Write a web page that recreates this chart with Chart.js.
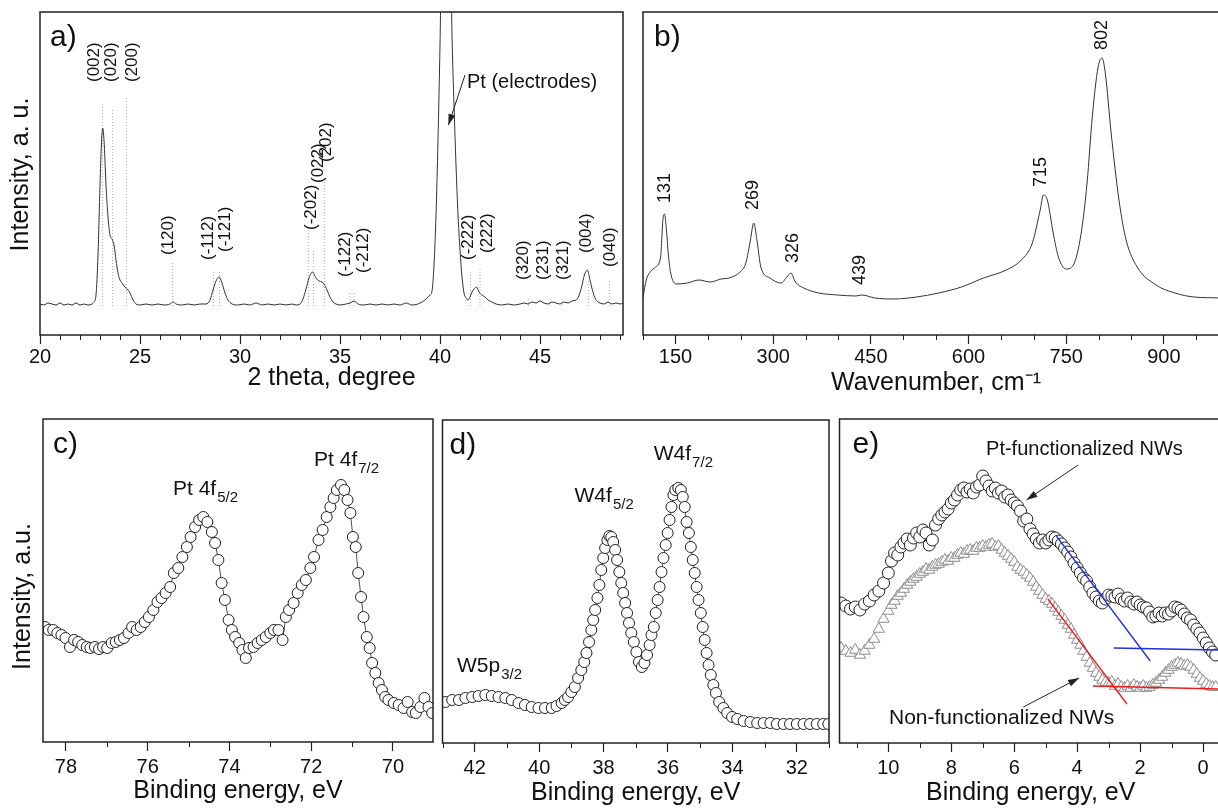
<!DOCTYPE html>
<html>
<head>
<meta charset="utf-8">
<script src="https://cdn.jsdelivr.net/npm/chart.js@4.4.0/dist/chart.umd.min.js"></script>
<style>
html, body { margin: 0; padding: 0; background: #fff; width: 1218px; height: 812px; overflow: hidden; position: relative; }
.panel { position: absolute; }
</style>
</head>
<body>
<div class="panel" style="left:0;top:0;width:633px;height:400px"><canvas id="xrd"></canvas></div>
<div class="panel" style="left:633px;top:0;width:617px;height:400px"><canvas id="raman"></canvas></div>
<div class="panel" style="left:0;top:400px;width:440px;height:412px"><canvas id="pt4f"></canvas></div>
<div class="panel" style="left:436px;top:400px;width:404px;height:412px"><canvas id="w4f"></canvas></div>
<div class="panel" style="left:832px;top:400px;width:420px;height:412px"><canvas id="vb"></canvas></div>
<script>
// a) XRD pattern (intensity in arbitrary units)
const xrdAngle = [
    20.0, 20.2, 20.4, 20.6, 20.8, 21.0, 21.2, 21.4, 21.6, 21.8,
    22.0, 22.2, 22.4, 22.6, 22.7, 22.8, 22.9, 23.0, 23.07, 23.13,
    23.2, 23.3, 23.4, 23.5, 23.6, 23.7, 23.8, 23.9, 24.0, 24.1,
    24.25, 24.4, 24.5, 24.65, 24.8, 25.0, 25.3, 25.6, 25.9, 26.2,
    26.5, 26.65, 26.8, 27.1, 27.4, 27.7, 28.0, 28.3, 28.5, 28.65,
    28.8, 28.95, 29.1, 29.25, 29.4, 29.6, 29.9, 30.2, 30.5, 30.8,
    31.1, 31.4, 31.7, 32.0, 32.3, 32.6, 32.8, 33.0, 33.15, 33.3,
    33.45, 33.62, 33.8, 33.95, 34.1, 34.2, 34.35, 34.5, 34.65, 34.8,
    35.0, 35.3, 35.5, 35.7, 35.9, 36.2, 36.5, 36.8, 37.1, 37.4,
    37.7, 38.0, 38.3, 38.6, 38.9, 39.1, 39.3, 39.5, 39.6, 39.7,
    39.8, 39.9, 40.0, 40.15, 40.45, 40.6, 40.7, 40.8, 40.9, 41.0,
    41.1, 41.2, 41.3, 41.4, 41.5, 41.6, 41.7, 41.83, 41.95, 42.1,
    42.25, 42.4, 42.6, 42.8, 43.1, 43.4, 43.7, 44.0, 44.2, 44.4,
    44.6, 44.8, 45.0, 45.2, 45.4, 45.6, 45.8, 46.0, 46.2, 46.4,
    46.6, 46.8, 46.92, 47.08, 47.22, 47.37, 47.5, 47.58, 47.75, 47.9,
    48.0, 48.2, 48.4, 48.6, 48.8, 49.0, 49.15
];
const xrdIntensity = [
    31, 30, 32, 31, 30, 32, 30, 31, 30, 32,
    30, 31, 30, 31, 33, 40, 80, 150, 190, 207,
    195, 150, 118, 100, 96, 90, 75, 62, 55, 52,
    48, 45, 42, 35, 31, 30, 31, 30, 31, 30,
    31, 33, 31, 30, 31, 30, 31, 31, 35, 45,
    54, 58, 52, 42, 35, 31, 30, 31, 30, 32,
    30, 31, 30, 31, 30, 31, 30, 31, 36, 46,
    57, 63, 57, 54, 53, 51, 45, 38, 33, 31,
    30, 31, 32, 34, 31, 30, 31, 30, 31, 30,
    31, 30, 32, 30, 31, 33, 36, 40, 44, 70,
    120, 195, 290, 470, 470, 300, 230, 170, 120, 85,
    58, 42, 37, 35, 38, 43, 46, 48, 43, 40,
    38, 35, 33, 31, 30, 31, 30, 31, 32, 31,
    33, 32, 34, 32, 31, 33, 32, 31, 33, 32,
    34, 35, 38, 48, 60, 65, 55, 48, 37, 33,
    32, 31, 33, 31, 32, 31, 32
];
// reference reflections (dotted lines) and their labels
const hklLabels = ['(002)', '(020)', '(200)', '(120)', '(-112)', '(-121)', '(-202)', '(022)', '(202)',
    '(-122)', '(-212)', '(-222)', '(222)', '(320)', '(231)', '(321)', '(004)', '(040)'];
const hklAngle = [23.13, 23.63, 24.33, 26.63, 28.67, 28.97, 33.42, 33.67, 34.22,
    35.5, 35.7, 41.53, 42.0, 44.42, 45.5, 46.1, 47.42, 48.47];
const hklHeight = [233, 227, 237, 72, 65, 65, 105, 85, 158, 43, 43, 65, 67, 38, 38, 38, 55, 55];
const hklLabelAngle = [22.7, 23.58, 24.63, 26.42, 28.42, 29.25, 33.58, 33.9, 34.33,
    35.25, 36.17, 41.42, 42.37, 44.17, 45.17, 46.17, 47.33, 48.5];
const hklLabelBase = [253, 253, 253, 80, 75, 83, 105, 152, 173, 58, 62, 75, 82, 55, 55, 55, 82, 68];

// b) Raman spectrum
const ramanShift = [
    100, 105, 111, 119.5, 127, 131, 133, 136, 139, 142.5,
    151, 168, 186, 203, 220, 232, 249, 258, 265, 270,
    275, 281, 295, 312, 321, 327, 334, 347, 370, 399,
    427, 436, 456, 485, 520, 554, 589, 623, 658, 681,
    698, 710, 715, 721, 730, 738, 750, 761, 773, 782,
    790, 799, 805, 810, 819, 831, 842, 859, 888, 917,
    946, 985, 1000
];
const ramanIntensity = [
    38, 55, 63, 68, 78, 118, 121, 105, 80, 62,
    51, 52, 55, 53, 56, 57, 63, 72, 95, 112,
    95, 68, 57, 52, 58, 62, 53, 47, 42, 40,
    39, 40, 37, 36, 38, 42, 48, 57, 65, 75,
    92, 125, 140, 135, 102, 78, 66, 70, 102, 152,
    218, 268, 277, 262, 202, 135, 95, 68, 50, 42,
    38, 37, 36
];
const ramanPeaks = ['131', '269', '326', '439', '715', '802'];
const ramanPeakShift = [133.9, 269, 330.8, 433, 711.4, 804.7];
const ramanPeakBase = [132, 125, 72, 50, 148, 285];

// c) Pt 4f XPS
const pt4fEnergy = [
    78.51, 78.42, 78.31, 78.21, 78.11, 78.01, 77.90, 77.80, 77.70, 77.60,
    77.49, 77.40, 77.29, 77.19, 77.09, 76.99, 76.88, 76.78, 76.68, 76.58,
    76.47, 76.38, 76.27, 76.17, 76.07, 75.97, 75.86, 75.76, 75.66, 75.56,
    75.45, 75.36, 75.25, 75.15, 75.04, 74.95, 74.84, 74.74, 74.64, 74.54,
    74.43, 74.35, 74.27, 74.19, 74.11, 74.02, 73.94, 73.86, 73.76, 73.68,
    73.60, 73.52, 73.41, 73.31, 73.21, 73.11, 73.00, 72.91, 72.80, 72.70,
    72.62, 72.54, 72.43, 72.33, 72.23, 72.13, 72.02, 71.93, 71.82, 71.72,
    71.62, 71.53, 71.45, 71.37, 71.27, 71.19, 71.11, 71.04, 70.98, 70.91,
    70.85, 70.78, 70.72, 70.64, 70.57, 70.51, 70.43, 70.35, 70.27, 70.19,
    70.11, 69.98, 69.86, 69.74, 69.64, 69.53, 69.44, 69.33, 69.23, 69.13,
    69.04
];
const pt4fIntensity = [
    115, 112, 112, 109, 107, 104, 95, 102, 100, 97,
    95, 94, 95, 93, 95, 94, 99, 100, 102, 104,
    109, 115, 112, 115, 120, 125, 132, 140, 144, 149,
    155, 169, 174, 185, 195, 205, 215, 222, 225, 220,
    210, 199, 182, 159, 142, 122, 112, 105, 99, 92,
    84, 94, 95, 99, 102, 105, 109, 112, 112, 102,
    125, 132, 139, 149, 157, 162, 174, 185, 202, 212,
    225, 235, 244, 252, 257, 252, 242, 229, 205, 195,
    169, 145, 125, 105, 94, 79, 69, 59, 52, 45,
    42, 39, 37, 34, 40, 30, 29, 35, 44, 35,
    29
];

// d) W 4f XPS
const w4fEnergy = [
    42.91, 42.70, 42.49, 42.29, 42.08, 41.88, 41.67, 41.47, 41.26, 41.05,
    40.85, 40.64, 40.44, 40.23, 40.02, 39.82, 39.61, 39.46, 39.30, 39.20,
    39.10, 39.00, 38.89, 38.79, 38.69, 38.60, 38.53, 38.45, 38.38, 38.32,
    38.26, 38.19, 38.13, 38.07, 38.01, 37.95, 37.88, 37.82, 37.76, 37.70,
    37.64, 37.58, 37.51, 37.45, 37.39, 37.33, 37.27, 37.21, 37.14, 37.06,
    36.98, 36.90, 36.81, 36.73, 36.65, 36.57, 36.51, 36.44, 36.38, 36.32,
    36.26, 36.20, 36.14, 36.07, 36.01, 35.95, 35.89, 35.83, 35.77, 35.68,
    35.60, 35.54, 35.48, 35.42, 35.35, 35.29, 35.23, 35.17, 35.11, 35.05,
    34.98, 34.92, 34.86, 34.80, 34.74, 34.67, 34.59, 34.51, 34.41, 34.28,
    34.16, 34.01, 33.85, 33.65, 33.44, 33.23, 33.03, 32.82, 32.62, 32.41,
    32.21, 32.00, 31.79, 31.59, 31.38, 31.18, 31.02
];
const w4fIntensity = [
    41, 43, 43, 45, 46, 47, 48, 47, 46, 45,
    43, 40, 38, 36, 35, 35, 35, 37, 40, 43,
    46, 51, 56, 65, 73, 81, 90, 101, 113, 123,
    133, 145, 158, 173, 185, 195, 203, 207, 206, 201,
    193, 183, 171, 160, 150, 140, 130, 120, 110, 101,
    91, 81, 76, 80, 88, 98, 108, 116, 130, 143,
    156, 171, 185, 198, 210, 223, 236, 248, 253, 255,
    253, 246, 236, 221, 210, 196, 183, 170, 156, 143,
    130, 116, 103, 90, 78, 68, 58, 50, 41, 35,
    30, 26, 24, 22, 21, 20, 20, 20, 19, 19,
    19, 19, 19, 19, 19, 19, 19
];

// e) valence band, both samples on one energy grid
const vbEnergy = [
    11.5, 11.35, 11.2, 11.05, 10.9, 10.75, 10.6, 10.45, 10.3, 10.15,
    10.0, 9.9, 9.8, 9.7, 9.6, 9.5, 9.4, 9.3, 9.2, 9.1,
    9.0, 8.9, 8.8, 8.7, 8.6, 8.5, 8.4, 8.3, 8.2, 8.1,
    8.0, 7.9, 7.8, 7.7, 7.6, 7.5, 7.4, 7.3, 7.2, 7.1,
    7.0, 6.9, 6.8, 6.7, 6.6, 6.5, 6.4, 6.3, 6.2, 6.1,
    6.0, 5.9, 5.8, 5.7, 5.6, 5.5, 5.4, 5.3, 5.2, 5.1,
    5.0, 4.9, 4.8, 4.7, 4.6, 4.5, 4.4, 4.3, 4.2, 4.1,
    4.0, 3.9, 3.8, 3.7, 3.6, 3.5, 3.4, 3.3, 3.2, 3.1,
    3.0, 2.9, 2.8, 2.7, 2.6, 2.5, 2.4, 2.3, 2.2, 2.1,
    2.0, 1.9, 1.8, 1.7, 1.6, 1.5, 1.4, 1.3, 1.2, 1.1,
    1.0, 0.9, 0.8, 0.7, 0.6, 0.5, 0.4, 0.3, 0.2, 0.1,
    0.0, -0.1, -0.2, -0.3, -0.4
];
const vbPtNWs = [
    140, 137, 134, 136, 133, 139, 142, 148, 152, 160,
    170, 182, 190, 188, 196, 200, 204, 198, 205, 210,
    206, 213, 210, 198, 203, 218, 224, 228, 231, 234,
    240, 243, 248, 253, 255, 251, 254, 250, 256, 258,
    267, 262, 257, 252, 255, 250, 252, 246, 248, 243,
    240, 237, 232, 222, 224, 214, 209, 204, 200, 203,
    200, 203, 206, 205, 202, 199, 195, 191, 186, 180,
    175, 170, 165, 162, 156, 150, 146, 142, 140, 144,
    148, 147, 146, 149, 144, 142, 145, 141, 139, 141,
    138, 136, 135, 131, 126, 127, 130, 127, 130, 129,
    132, 136, 135, 133, 129, 125, 123, 118, 114, 110,
    105, 100, 95, 91, 88
];
const vbBareNWs = [
    95, 92, 90, 93, 88, 92, 98, 104, 114, 124,
    132, 138, 142, 147, 150, 154, 158, 161, 164, 166,
    169, 171, 174, 173, 176, 178, 179, 181, 183, 182,
    185, 185, 188, 190, 189, 192, 193, 192, 195, 195,
    197, 196, 198, 199, 196, 197, 193, 190, 187, 184,
    181, 176, 173, 171, 168, 165, 161, 156, 152, 148,
    144, 142, 139, 135, 131, 127, 123, 118, 114, 108,
    103, 98, 92, 86, 80, 75, 70, 66, 63, 61,
    60, 61, 57, 59, 56, 55, 57, 55, 58, 56,
    55, 57, 55, 56, 58, 60, 63, 66, 70, 73,
    76, 78, 80, 79, 77, 78, 76, 73, 69, 65,
    62, 59, 57, 56, 56
];
// linear extrapolations of the band edge
const ptEdgeX = [4.66, 1.68], ptEdgeY = [207, 82];
const ptBaseX = [2.84, -0.48], ptBaseY = [95, 93];
const bareEdgeX = [4.93, 2.42], bareEdgeY = [144, 39];
const bareBaseX = [3.5, -0.48], bareBaseY = [57, 54];

const FONT = '"Liberation Sans", Arial, sans-serif';
Chart.defaults.font.family = FONT;
Chart.defaults.color = '#111';

function zip(xs, ys) {
    return xs.map((x, i) => ({ x: x, y: ys[i] }));
}

// vertical dotted sticks, separated by gaps
function sticks(xs, tops, base) {
    const pts = [];
    xs.forEach((x, i) => {
        pts.push({ x: x, y: base }, { x: x, y: tops[i] }, { x: x, y: null });
    });
    return pts;
}

function onMajor(v, major) {
    return Math.abs(v / major - Math.round(v / major)) < 1e-6;
}

function xAxis(min, max, step, major, reverse, title, tickPad, titlePad, height) {
    return {
        type: 'linear', min: min, max: max, reverse: reverse,
        ticks: {
            stepSize: step, includeBounds: false, autoSkip: false, maxRotation: 0,
            padding: tickPad, color: '#111', font: { size: 20 },
            callback: v => onMajor(v, major) ? String(Math.round(v)) : ''
        },
        grid: {
            drawOnChartArea: false, tickLength: 9, tickWidth: 1.2,
            tickColor: c => (c.tick && c.tick.label) ? '#222' : 'rgba(0,0,0,0)'
        },
        border: { display: false },
        title: { display: true, text: title, color: '#111', font: { size: 25 }, padding: { top: 0, bottom: titlePad } },
        afterFit: s => { s.height = height; }
    };
}

// frame, minor ticks, panel letter, annotations
const decor = {
    id: 'decor',
    afterDraw(chart, args, o) {
        const { ctx, chartArea: a } = chart;
        const sx = chart.scales.x, sy = chart.scales.y;
        ctx.save();
        ctx.strokeStyle = '#222';
        ctx.lineWidth = 1;
        sx.ticks.forEach(t => {
            if (t.label) return;
            const px = Math.round(sx.getPixelForValue(t.value)) + 0.5;
            ctx.beginPath();
            ctx.moveTo(px, a.bottom);
            ctx.lineTo(px, a.bottom + 5);
            ctx.stroke();
        });
        ctx.lineWidth = 1.5;
        ctx.strokeRect(a.left, a.top, a.right - a.left, a.bottom - a.top);

        ctx.fillStyle = '#111';
        ctx.font = '30px ' + FONT;
        ctx.textAlign = 'left';
        ctx.textBaseline = 'alphabetic';
        ctx.fillText(o.letter, a.left + o.letterDx, a.top + 34);

        if (o.yTitle) {
            ctx.save();
            ctx.translate(a.left + o.yTitle.dx, (a.top + a.bottom) / 2 + o.yTitle.dy);
            ctx.rotate(-Math.PI / 2);
            ctx.font = '25px ' + FONT;
            ctx.textAlign = 'center';
            ctx.textBaseline = 'middle';
            ctx.fillText(o.yTitle.text, 0, 0);
            ctx.restore();
        }

        (o.texts || []).forEach(t => {
            const px = sx.getPixelForValue(t.x), py = sy.getPixelForValue(t.y);
            ctx.font = t.size + 'px ' + FONT;
            if (t.rot) {
                ctx.save();
                ctx.translate(px, py);
                ctx.rotate(-Math.PI / 2);
                ctx.textAlign = 'left';
                ctx.textBaseline = 'middle';
                ctx.fillText(t.text, 0, 0);
                ctx.restore();
                return;
            }
            ctx.textAlign = t.align || 'left';
            ctx.textBaseline = t.baseline || 'alphabetic';
            ctx.fillText(t.text, px, py);
            if (t.sub) {
                const w = ctx.measureText(t.text).width;
                ctx.font = Math.round(t.size * 0.72) + 'px ' + FONT;
                ctx.fillText(t.sub, px + w + 1, py + t.size * 0.32);
            }
        });

        ctx.strokeStyle = '#222';
        ctx.fillStyle = '#222';
        ctx.lineWidth = 1;
        (o.arrows || []).forEach(ar => {
            const x1 = sx.getPixelForValue(ar[0]), y1 = sy.getPixelForValue(ar[1]);
            const x2 = sx.getPixelForValue(ar[2]), y2 = sy.getPixelForValue(ar[3]);
            const ang = Math.atan2(y2 - y1, x2 - x1);
            ctx.beginPath();
            ctx.moveTo(x1, y1);
            ctx.lineTo(x2, y2);
            ctx.stroke();
            ctx.beginPath();
            ctx.moveTo(x2, y2);
            ctx.lineTo(x2 - 11 * Math.cos(ang) + 3.5 * Math.sin(ang), y2 - 11 * Math.sin(ang) - 3.5 * Math.cos(ang));
            ctx.lineTo(x2 - 11 * Math.cos(ang) - 3.5 * Math.sin(ang), y2 - 11 * Math.sin(ang) + 3.5 * Math.cos(ang));
            ctx.closePath();
            ctx.fill();
        });
        ctx.restore();
    }
};

function makePanel(id, datasets, x, yMax, padding, decorOpts) {
    return new Chart(document.getElementById(id).getContext('2d'), {
        type: 'line',
        data: { datasets: datasets },
        options: {
            responsive: true,
            maintainAspectRatio: false,
            animation: false,
            events: [],
            layout: { padding: padding },
            scales: {
                x: x,
                y: { display: false, min: 0, max: yMax }
            },
            plugins: {
                legend: { display: false },
                tooltip: { enabled: false },
                decor: decorOpts
            }
        },
        plugins: [decor]
    });
}

// a) XRD
makePanel('xrd', [
    {
        data: zip(xrdAngle, xrdIntensity), borderColor: '#333', borderWidth: 1,
        pointRadius: 0, cubicInterpolationMode: 'monotone'
    },
    {
        data: sticks(hklAngle, hklHeight, 29), borderColor: '#a8a8a8', borderWidth: 1,
        borderDash: [1, 2], pointRadius: 0, spanGaps: false
    }
], xAxis(20, 49.15, 1, 5, false, '2 theta, degree', 1, 7, 65), 323,
    { left: 40, top: 12, right: 10, bottom: 0 },
    {
        letter: 'a)', letterDx: 10,
        yTitle: { text: 'Intensity, a. u.', dx: -19, dy: 1 },
        texts: hklLabels.map((t, i) => ({ x: hklLabelAngle[i], y: hklLabelBase[i], text: t, size: 17, rot: true }))
            .concat([{ x: 41.35, y: 253, text: 'Pt (electrodes)', size: 20, baseline: 'middle' }]),
        arrows: [[41.25, 260, 40.42, 210]]
    });

// b) Raman
makePanel('raman', [
    {
        data: zip(ramanShift, ramanIntensity), borderColor: '#333', borderWidth: 1,
        pointRadius: 0, cubicInterpolationMode: 'monotone'
    }
], xAxis(100, 1000, 50, 150, false, 'Wavenumber, cm\u207B\u00B9', 1.5, 2, 65), 323,
    { left: 10, top: 12, right: 21, bottom: 0 },
    {
        letter: 'b)', letterDx: 11,
        texts: ramanPeaks.map((t, i) => ({ x: ramanPeakShift[i], y: ramanPeakBase[i], text: t, size: 18, rot: true }))
    });

// c) Pt 4f
makePanel('pt4f', [
    {
        data: zip(pt4fEnergy, pt4fIntensity), borderColor: '#222', borderWidth: 0.8,
        pointRadius: 5.5, pointBackgroundColor: '#fff', pointBorderColor: '#222', pointBorderWidth: 1
    }
], xAxis(69.02, 78.56, 1, 2, true, 'Binding energy, eV', 4, 6, 70), 323,
    { left: 43, top: 19, right: 7, bottom: 0 },
    {
        letter: 'c)', letterDx: 10,
        yTitle: { text: 'Intensity, a.u.', dx: -20, dy: 16 },
        texts: [
            { x: 75.38, y: 247, text: 'Pt 4f', sub: '5/2', size: 21 },
            { x: 71.93, y: 276, text: 'Pt 4f', sub: '7/2', size: 21 }
        ]
    });

// d) W 4f
makePanel('w4f', [
    {
        data: zip(w4fEnergy, w4fIntensity), borderColor: '#222', borderWidth: 0.8,
        pointRadius: 5.5, pointBackgroundColor: '#fff', pointBorderColor: '#222', pointBorderWidth: 1
    }
], xAxis(31, 43, 1, 2, true, 'Binding energy, eV', 4, 4, 69), 323,
    { left: 5, top: 20, right: 11, bottom: 0 },
    {
        letter: 'd)', letterDx: 7,
        texts: [
            { x: 38.9, y: 241, text: 'W4f', sub: '5/2', size: 21 },
            { x: 36.44, y: 283, text: 'W4f', sub: '7/2', size: 21 },
            { x: 42.55, y: 71, text: 'W5p', sub: '3/2', size: 21 }
        ]
    });

// e) valence band
const lineStyle = (color) => ({ borderColor: color, borderWidth: 1.3, pointRadius: 0 });
makePanel('vb', [
    Object.assign({ data: zip(ptEdgeX, ptEdgeY) }, lineStyle('#1f2fe0')),
    Object.assign({ data: zip(ptBaseX, ptBaseY) }, lineStyle('#1f2fe0')),
    Object.assign({ data: zip(bareEdgeX, bareEdgeY) }, lineStyle('#ee1c1c')),
    Object.assign({ data: zip(bareBaseX, bareBaseY) }, lineStyle('#ee1c1c')),
    {
        data: zip(vbEnergy, vbPtNWs), showLine: false,
        pointRadius: 6, pointBackgroundColor: '#fff', pointBorderColor: '#222', pointBorderWidth: 1
    },
    {
        data: zip(vbEnergy, vbBareNWs), showLine: false, pointStyle: 'triangle',
        pointRadius: 6.5, pointBackgroundColor: '#fff', pointBorderColor: '#8c8c8c', pointBorderWidth: 1
    }
], xAxis(-0.6, 11.55, 1, 2, true, 'Binding energy, eV', 4, 4, 69), 324,
    { left: 5, top: 19, right: 30, bottom: 0 },
    {
        letter: 'e)', letterDx: 13,
        texts: [
            { x: 3.77, y: 294, text: 'Pt-functionalized NWs', size: 20, align: 'center', baseline: 'middle' },
            { x: 6.4, y: 25, text: 'Non-functionalized NWs', size: 21, align: 'center', baseline: 'middle' }
        ],
        arrows: [[3.97, 278, 5.61, 243], [5.71, 36, 3.94, 65]]
    });
</script>
</body>
</html>
